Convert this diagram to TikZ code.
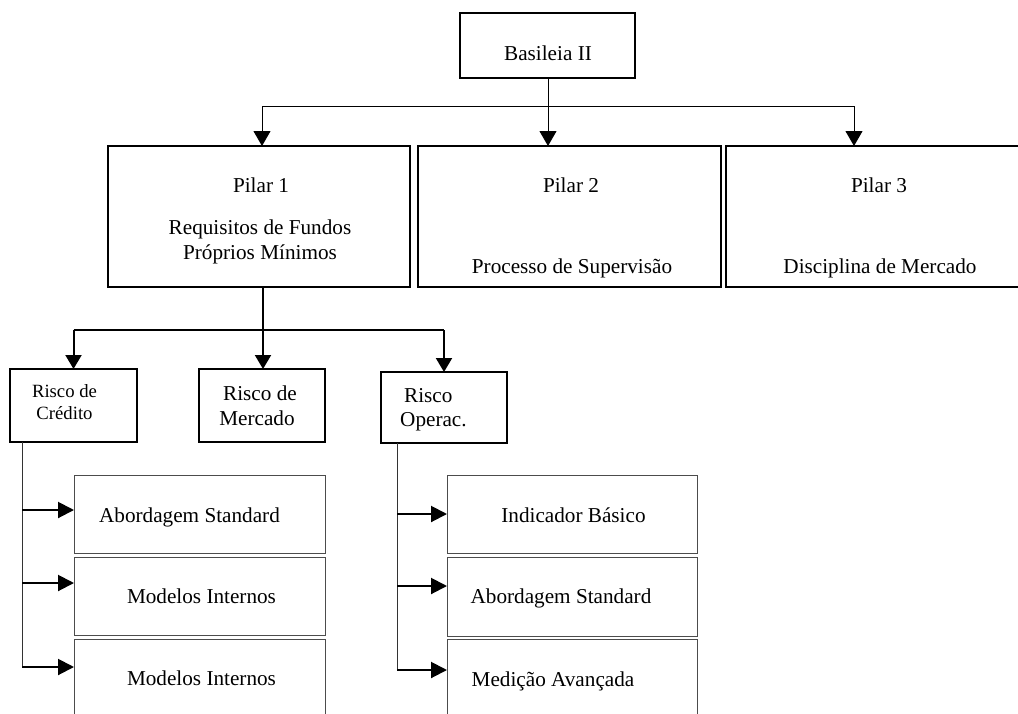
\documentclass[tikz,border=0pt]{standalone}
\usepackage{fontspec}
\setmainfont{Liberation Serif}
\usetikzlibrary{arrows.meta}
\begin{document}
\begin{tikzpicture}[x=1pt,y=-1pt,
  bigfont/.style={font=\fontsize{21.2pt}{25pt}\selectfont},
  smallfont/.style={font=\fontsize{18.7pt}{22pt}\selectfont},
  mainbox/.style={draw=black,line width=1.9pt,inner sep=0pt,outer sep=0pt,anchor=north west},
  subbox/.style={draw=black!70,line width=1pt,inner sep=0pt,outer sep=0pt,anchor=north west},
  txt/.style={bigfont,inner sep=0pt,anchor=base},
  stxt/.style={smallfont,inner sep=0pt,anchor=base},
  toparr/.style={line width=1pt,-{Triangle[length=15pt,width=17pt]}},
  midarr/.style={line width=2pt,-{Triangle[length=14pt,width=16pt]}},
  subarr/.style={line width=2pt,-{Triangle[length=16pt,width=16pt]}},
  trunk/.style={line width=1pt,draw=black!80},
  line join=miter]
\useasboundingbox[fill=white] (0,0) rectangle (1018,713);

% top box
\node[mainbox,minimum width=175pt,minimum height=65pt] (bas) at (460,13) {};
\node[txt] (bast) at (548,60) {Basileia II};

% pillars
\node[mainbox,minimum width=302pt,minimum height=141pt] (p1) at (108,146) {};
\node[mainbox,minimum width=303pt,minimum height=141pt] (p2) at (418,146) {};
\node[mainbox,minimum width=308pt,minimum height=141pt] (p3) at (726,146) {};
\node[txt] (p1a) at (261,192) {Pilar 1};
\node[txt] (p1b) at (260,234) {Requisitos de Fundos};
\node[txt] (p1c) at (260,259) {Próprios Mínimos};
\node[txt] (p2a) at (571,192) {Pilar 2};
\node[txt] (p2b) at (572,273) {Processo de Supervisão};
\node[txt] (p3a) at (879,192) {Pilar 3};
\node[txt] (p3b) at (880,273) {Disciplina de Mercado};

% top connectors
\coordinate (t1) at (262,106);
\coordinate (t2) at (548,106);
\coordinate (t3) at (854,106);
\draw[line width=1pt] (bas.south -| t2) -- (t2);
\draw[line width=1pt] (t1) -- (t3);
\draw[toparr] (t1) -- (t1 |- p1.north);
\draw[toparr] (t2) -- (t2 |- p2.north);
\draw[toparr] (t3) -- (t3 |- p3.north);

% risk boxes
\node[mainbox,minimum width=127pt,minimum height=73pt] (rc) at (10,369) {};
\node[mainbox,minimum width=126pt,minimum height=73pt] (rm) at (199,369) {};
\node[mainbox,minimum width=126pt,minimum height=71pt] (ro) at (381,372) {};
\node[stxt] (rc1) at (64.5,397) {Risco de};
\node[stxt] (rc2) at (64.5,419) {Crédito};
\node[txt] (rm1) at (260,400) {Risco de};
\node[txt] (rm2) at (257,425) {Mercado};
\node[txt,anchor=base west] (ro1) at (404,402) {Risco};
\node[txt,anchor=base west] (ro2) at (400,426) {Operac.};

% pillar 1 branch
\coordinate (m1) at (263,330);
\draw[line width=2pt] (p1.south -| m1) -- (m1);
\draw[line width=2pt] (rc.north |- m1) -- (ro.north |- m1);
\draw[midarr] (rc.north |- m1) -- (rc.north);
\draw[midarr] (m1) -- (m1 |- rm.north);
\draw[midarr] (ro.north |- m1) -- (ro.north);

% credit sub boxes
\node[subbox,minimum width=251pt,minimum height=78pt] (ca) at (74,475) {};
\node[subbox,minimum width=251pt,minimum height=78pt] (cb) at (74,557) {};
\node[subbox,minimum width=251pt,minimum height=90pt] (cc) at (74,639) {};
\node[txt] (cat) at (189.5,522) {Abordagem Standard};
\node[txt] (cbt) at (201.5,603) {Modelos Internos};
\node[txt] (cct) at (201.5,685) {Modelos Internos};
\coordinate (ka) at (22,510);
\coordinate (kb) at (22,583);
\coordinate (kc) at (22,667);
\draw[trunk] (rc.south -| ka) -- (kc);
\draw[subarr] (ka) -- (ka -| ca.west);
\draw[subarr] (kb) -- (kb -| cb.west);
\draw[subarr] (kc) -- (kc -| cc.west);

% operational sub boxes
\node[subbox,minimum width=250pt,minimum height=78pt] (oa) at (447,475) {};
\node[subbox,minimum width=250pt,minimum height=79pt] (ob) at (447,557) {};
\node[subbox,minimum width=250pt,minimum height=90pt] (oc) at (447,639) {};
\node[txt] (oat) at (573.5,522) {Indicador Básico};
\node[txt] (obt) at (561,603) {Abordagem Standard};
\node[txt] (oct) at (553,686) {Medição Avançada};
\coordinate (ja) at (397,514);
\coordinate (jb) at (397,586);
\coordinate (jc) at (397,670);
\draw[trunk] (ro.south -| ja) -- (jc);
\draw[subarr] (ja) -- (ja -| oa.west);
\draw[subarr] (jb) -- (jb -| ob.west);
\draw[subarr] (jc) -- (jc -| oc.west);
\end{tikzpicture}
\end{document}
